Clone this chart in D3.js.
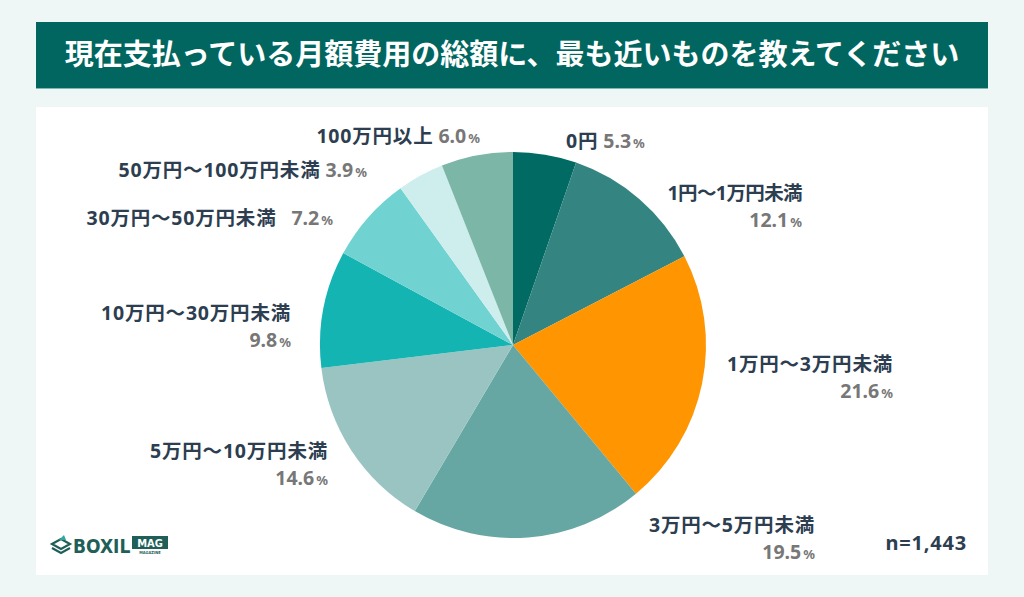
<!DOCTYPE html>
<html>
<head>
<meta charset="utf-8">
<script src="https://cdn.jsdelivr.net/npm/d3@7"></script>
<style>
  html, body { margin: 0; padding: 0; background: #eef7f6; }
  svg text { font-family: "Noto Sans", "Noto Sans CJK JP", sans-serif; font-weight: 700; }
</style>
</head>
<body>
<svg id="chart" width="1024" height="597"></svg>
<script>
// data
var categories = ['0円', '1円〜1万円未満', '1万円〜3万円未満', '3万円〜5万円未満', '5万円〜10万円未満',
    '10万円〜30万円未満', '30万円〜50万円未満', '50万円〜100万円未満', '100万円以上'];
var shares = [5.3, 12.1, 21.6, 19.5, 14.6, 9.8, 7.2, 3.9, 6.0];
var sliceColors = ['#006a63', '#348581', '#ff9500', '#66a7a3', '#9ac4c2', '#14b4b2', '#70d3d1', '#cdeeed', '#7bb6a6'];
var title = '現在支払っている月額費用の総額に、最も近いものを教えてください';
var sampleNote = 'n=1,443';

// label layout: anchor x, y of first line, one or two lines
var labelLayout = [
    {x: 566, y: 148, anchor: 'start', twoLine: false},
    {x: 802, y: 200, anchor: 'end', twoLine: true, ls: -0.6},
    {x: 893, y: 371, anchor: 'end', twoLine: true},
    {x: 815, y: 532, anchor: 'end', twoLine: true},
    {x: 328, y: 458, anchor: 'end', twoLine: true},
    {x: 291, y: 320, anchor: 'end', twoLine: true},
    {x: 333, y: 225, anchor: 'end', twoLine: false, gap: 15},
    {x: 367, y: 177, anchor: 'end', twoLine: false},
    {x: 480, y: 143, anchor: 'end', twoLine: false}
];

var svg = d3.select('#chart');

svg.append('rect').attr('x', 0).attr('y', 0).attr('width', 1024).attr('height', 597).attr('fill', '#eef7f6');

// title bar
svg.append('rect').attr('x', 36).attr('y', 22).attr('width', 952).attr('height', 66).attr('fill', '#00665f');
svg.append('line').attr('x1', 36).attr('x2', 988).attr('y1', 88.5).attr('y2', 88.5).attr('stroke', '#7fb8b3').attr('stroke-width', 1);
svg.append('text')
    .attr('x', 512).attr('y', 65)
    .attr('text-anchor', 'middle')
    .attr('fill', '#ffffff')
    .style('font-size', '29px')
    .text(title);

// panel
svg.append('rect').attr('x', 36).attr('y', 107).attr('width', 952).attr('height', 468).attr('fill', '#ffffff');

// pie
var cx = 513, cy = 345, radius = 193;
var pie = d3.pie().sort(null).value(function(d) { return d; });
var arc = d3.arc().innerRadius(0).outerRadius(radius);

var g = svg.append('g').attr('transform', 'translate(' + cx + ',' + cy + ')');
g.selectAll('path')
    .data(pie(shares))
    .enter().append('path')
    .attr('d', arc)
    .attr('fill', function(d, i) { return sliceColors[i]; });

// labels
var navy = '#2c3e50', grey = '#777777';
labelLayout.forEach(function(l, i) {
    var pct = shares[i].toFixed(1);
    var ls = (l.ls !== undefined ? l.ls : 0.8) + 'px';
    if (l.twoLine) {
        svg.append('text')
            .attr('x', l.x).attr('y', l.y)
            .attr('text-anchor', l.anchor)
            .attr('fill', navy)
            .style('font-size', '19.5px')
            .style('letter-spacing', ls)
            .text(categories[i]);
        var t2 = svg.append('text')
            .attr('x', l.x).attr('y', l.y + 27)
            .attr('text-anchor', l.anchor)
            .attr('fill', grey)
            .style('font-size', '19.5px');
        t2.append('tspan').text(pct);
        t2.append('tspan').style('font-size', '13px').attr('dx', 2).text('%');
    } else {
        var t = svg.append('text')
            .attr('x', l.x).attr('y', l.y)
            .attr('text-anchor', l.anchor)
            .style('font-size', '19.5px');
        t.append('tspan').attr('fill', navy).style('letter-spacing', ls).text(categories[i]);
        t.append('tspan').attr('fill', grey).attr('dx', l.gap || 5).text(pct);
        t.append('tspan').attr('fill', grey).style('font-size', '13px').attr('dx', 2).text('%');
    }
});

// sample size
svg.append('text')
    .attr('x', 967).attr('y', 550)
    .attr('text-anchor', 'end')
    .attr('fill', navy)
    .style('font-size', '20px')
    .style('letter-spacing', '0.8px')
    .text(sampleNote);

// logo
var logo = svg.append('g').attr('transform', 'translate(52,534)');
logo.append('path').attr('d', 'M0,10 L9,5 L18,10 L9,15 Z').attr('fill', 'none').attr('stroke', '#1f5f58').attr('stroke-width', 2.2);
logo.append('path').attr('d', 'M0,14 L9,19 L18,14').attr('fill', 'none').attr('stroke', '#1f5f58').attr('stroke-width', 2.2);
logo.append('path').attr('d', 'M7,6 L12,1 L14,6 Z').attr('fill', '#2fa7a0');
logo.append('text')
    .attr('x', 21).attr('y', 19)
    .attr('fill', '#1f5f58')
    .style('font-family', '"DejaVu Sans Condensed", "Liberation Sans Narrow", sans-serif')
    .style('font-size', '19px')
    .text('BOXIL');
logo.append('rect').attr('x', 80).attr('y', 2).attr('width', 36).attr('height', 13).attr('fill', '#1f5f58');
logo.append('text')
    .attr('x', 98).attr('y', 13)
    .attr('text-anchor', 'middle')
    .attr('fill', '#ffffff')
    .style('font-family', '"DejaVu Sans Condensed", sans-serif')
    .style('font-size', '11px')
    .text('MAG');
logo.append('text')
    .attr('x', 98).attr('y', 20)
    .attr('text-anchor', 'middle')
    .attr('fill', '#1f5f58')
    .style('font-family', '"DejaVu Sans Condensed", sans-serif')
    .style('font-size', '4px')
    .text('MAGAZINE');
</script>
</body>
</html>
